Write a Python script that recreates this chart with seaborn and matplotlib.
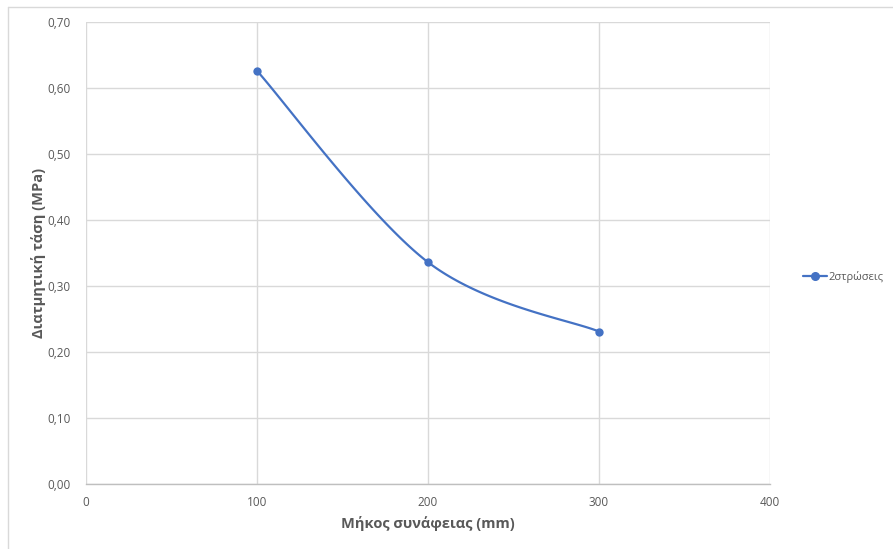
import numpy as np
import pandas as pd
import matplotlib
matplotlib.use("Agg")
import matplotlib.pyplot as plt
from matplotlib.lines import Line2D
import seaborn as sns

# Data
lengths = [100, 200, 300]          # Μήκος συνάφειας (mm)
stress = [0.626, 0.336, 0.231]     # Διατμητική τάση (MPa)
series_name = "2στρώσεις"
x_ticks = [0, 100, 200, 300, 400]
y_ticks = [0.0, 0.1, 0.2, 0.3, 0.4, 0.5, 0.6, 0.7]

LINE = "#4472C4"
TEXT = "#595959"
GRID = "#D9D9D9"

sns.set_theme(style="white")
plt.rcParams["font.family"] = ["Open Sans", "DejaVu Sans"]


def smooth_curve(xs, ys, n=60):
    """Catmull-Rom style Bezier smoothing through every point."""
    p = np.column_stack([xs, ys]).astype(float)
    pts = np.vstack([p[0], p, p[-1]])
    out = []
    for i in range(1, len(pts) - 2):
        p0, p1, p2, p3 = pts[i - 1], pts[i], pts[i + 1], pts[i + 2]
        c1 = p1 + (p2 - p0) / 6.0
        c2 = p2 - (p3 - p1) / 6.0
        t = np.linspace(0, 1, n)[:, None]
        seg = ((1 - t) ** 3) * p1 + 3 * ((1 - t) ** 2) * t * c1 + 3 * (1 - t) * t ** 2 * c2 + t ** 3 * p2
        out.append(seg if i == 1 else seg[1:])
    c = np.vstack(out)
    return c[:, 0], c[:, 1]


df = pd.DataFrame({"x": lengths, "y": stress})
cx, cy = smooth_curve(lengths, stress)
curve = pd.DataFrame({"x": cx, "y": cy})

fig = plt.figure(figsize=(8.93, 5.49), dpi=100)
ax = fig.add_axes([0.0963, 0.1184, 0.7660, 0.8416])

sns.lineplot(data=curve, x="x", y="y", ax=ax, color=LINE, linewidth=1.6,
             sort=False, estimator=None)
sns.scatterplot(data=df, x="x", y="y", ax=ax, color=LINE, s=36,
                edgecolor=LINE, linewidth=0, zorder=5)

ax.set_xlim(0, 400)
ax.set_ylim(0, 0.70)
ax.set_xticks(x_ticks)
ax.set_yticks(y_ticks)
ax.set_xticklabels([str(v) for v in x_ticks])
ax.set_yticklabels([f"{v:.2f}".replace(".", ",") for v in y_ticks])
ax.tick_params(axis="both", length=0, labelsize=8.5, colors=TEXT)
ax.tick_params(axis="x", pad=9)
ax.tick_params(axis="y", pad=11)

ax.grid(True, color=GRID, linewidth=1.0)
ax.set_axisbelow(True)
for side in ["top", "right", "left"]:
    ax.spines[side].set_visible(False)
ax.spines["bottom"].set_color("#BFBFBF")
ax.spines["bottom"].set_linewidth(1.0)

ax.set_xlabel("Μήκος συνάφειας (mm)", fontsize=10.5, fontweight="bold",
              color=TEXT, labelpad=5)
ax.set_ylabel("Διατμητική τάση (MPa)", fontsize=10.5, fontweight="bold",
              color=TEXT, labelpad=1)

handle = Line2D([0], [0], color=LINE, linewidth=1.6, marker="o", markersize=5.5)
fig.legend([handle], [series_name], loc="center left",
           bbox_to_anchor=(0.888, 0.496), frameon=False, fontsize=8,
           labelcolor=TEXT, handlelength=2.2, handletextpad=0.1)

# Chart frame edges
fig.add_artist(Line2D([8 / 893, 1.0], [1 - 7 / 549, 1 - 7 / 549],
                      transform=fig.transFigure, color=GRID, linewidth=1.0))
fig.add_artist(Line2D([8 / 893, 8 / 893], [0.0, 1 - 7 / 549],
                      transform=fig.transFigure, color=GRID, linewidth=1.0))

fig.savefig("out.png", dpi=100, facecolor="white")
